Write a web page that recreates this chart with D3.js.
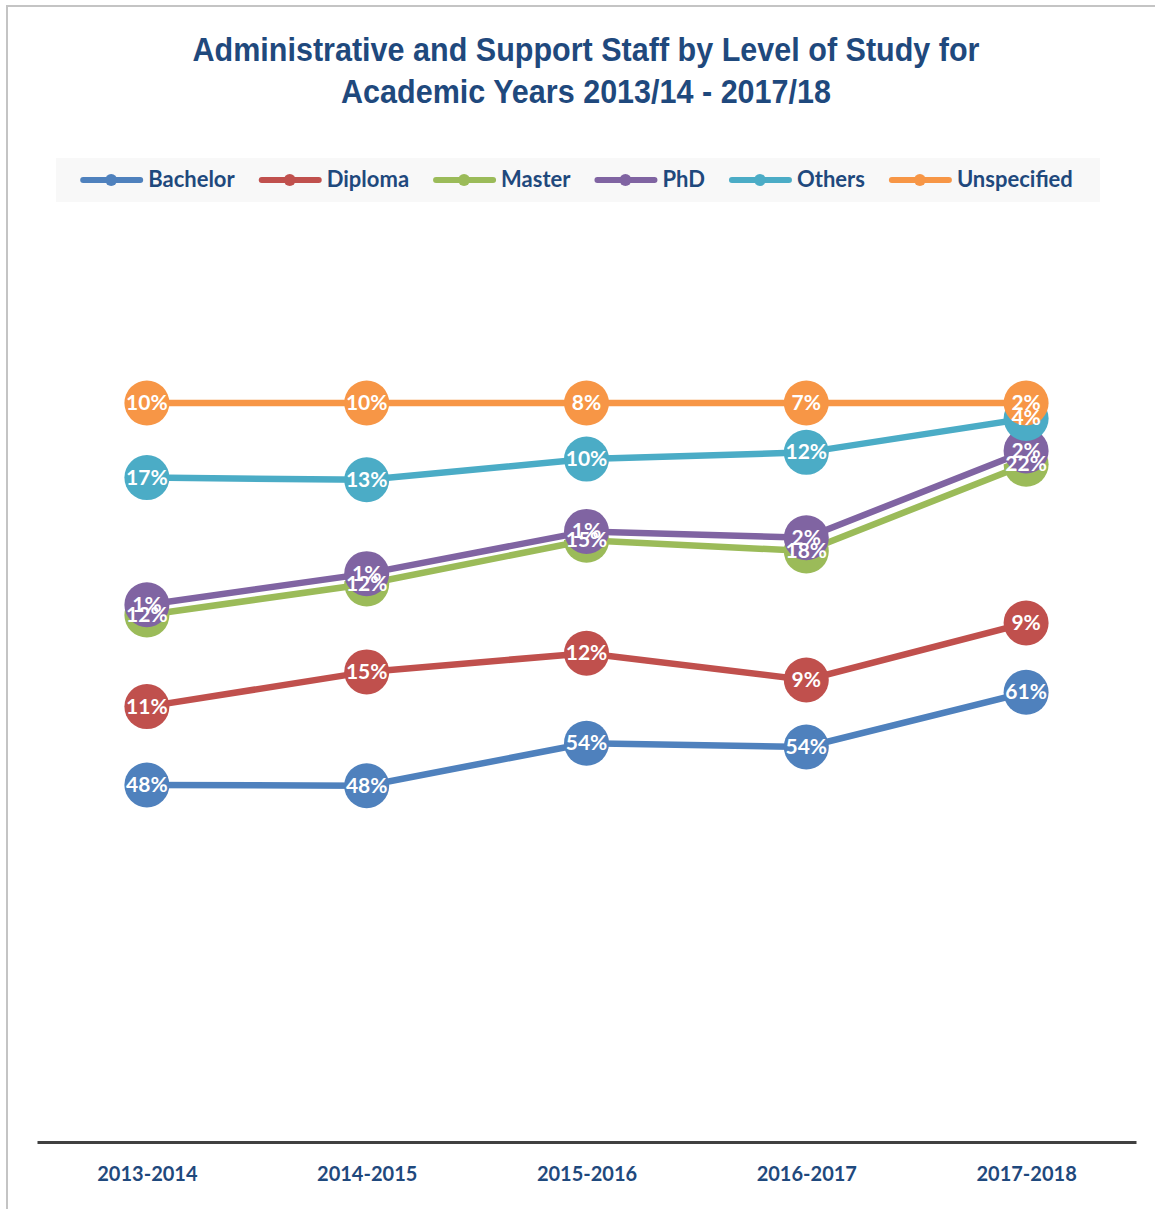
<!DOCTYPE html>
<html>
<head>
<meta charset="utf-8">
<title>Administrative and Support Staff by Level of Study</title>
<script src="https://cdn.jsdelivr.net/npm/d3@7"></script>
<style>
  body { margin: 0; background: #fff; }
  svg { display: block; }
  .title { font-family: "Liberation Sans", Arial, sans-serif; font-weight: bold; font-size: 34px; fill: #1f497d; }
  .legend text { font-family: Lato, "Open Sans", sans-serif; font-weight: bold; font-size: 22px; fill: #1f497d; }
  .axis text { font-family: Lato, "Open Sans", sans-serif; font-weight: bold; font-size: 20px; fill: #1f497d; }
  .lbl { font-family: Lato, "Open Sans", sans-serif; font-weight: bold; font-size: 21px; fill: #fff; }
</style>
</head>
<body>
<script>
// data (percent per level of study, labels show rounded values)
var years = ["2013-2014", "2014-2015", "2015-2016", "2016-2017", "2017-2018"];
var levels = ["Bachelor", "Diploma", "Master", "PhD", "Others", "Unspecified"];
var bachelor    = [48.2, 48.1, 53.9, 53.5, 60.8];
var diploma     = [10.6, 15.4, 12.2, 9.1, 9.4];
var master      = [12.4, 11.9, 15.3, 17.5, 21.5];
var phd         = [1.4, 1.4, 1.2, 1.8, 1.8];
var others      = [17.2, 12.7, 9.8, 11.6, 4.4];
var unspecified = [10.1, 10.4, 7.6, 6.7, 2.1];
var colors = ["#4f81bd", "#c0504d", "#9bbb59", "#8064a2", "#4bacc6", "#f79646"];

var series = [bachelor, diploma, master, phd, others, unspecified];
var rows = years.map(function(y, i) {
  var r = { year: y };
  levels.forEach(function(l, j) { r[l] = series[j][i]; });
  return r;
});

var w = 1155, h = 1209;
var svg = d3.select("body").append("svg").attr("width", w).attr("height", h);

// outer frame
svg.append("rect")
  .attr("x", 7).attr("y", 6).attr("width", 1170).attr("height", 1230)
  .attr("fill", "none").attr("stroke", "#c4c4c4").attr("stroke-width", 2);

// title (narrow bold look)
svg.append("text").attr("class", "title").attr("x", 586).attr("y", 61)
  .attr("text-anchor", "middle")
  .attr("textLength", 787).attr("lengthAdjust", "spacingAndGlyphs")
  .text("Administrative and Support Staff by Level of Study for");
svg.append("text").attr("class", "title").attr("x", 586).attr("y", 103)
  .attr("text-anchor", "middle")
  .attr("textLength", 490).attr("lengthAdjust", "spacingAndGlyphs")
  .text("Academic Years 2013/14 - 2017/18");

// legend
var legend = svg.append("g").attr("class", "legend");
legend.append("rect").attr("x", 56).attr("y", 158).attr("width", 1044).attr("height", 44)
  .attr("fill", "#f8f8f8");
var items = legend.selectAll("g.item").data(levels).enter().append("g").attr("class", "item");
items.append("line").attr("x1", 0).attr("x2", 57).attr("y1", 0).attr("y2", 0)
  .attr("stroke", function(d, i) { return colors[i]; })
  .attr("stroke-width", 6).attr("stroke-linecap", "round");
items.append("circle").attr("cx", 28).attr("cy", 0).attr("r", 6)
  .attr("fill", function(d, i) { return colors[i]; });
items.append("text").attr("x", 65).attr("y", 7).text(function(d) { return d; });
var widths = [];
items.each(function() { widths.push(65 + d3.select(this).select("text").node().getComputedTextLength()); });
var gap = 27;
var total = d3.sum(widths) + gap * (widths.length - 1);
var lx = 578 - total / 2;
items.attr("transform", function(d, i) {
  var t = "translate(" + lx + ",180)";
  lx += widths[i] + gap;
  return t;
});

// scales
var x = d3.scalePoint().domain(years).range([37, 1136]).padding(0.5);
var y = d3.scaleLinear().domain([0, 1.25]).range([1141, 218.5]);

var stack = d3.stack().keys(levels).offset(d3.stackOffsetExpand);
var stacked = stack(rows);

// axis
var xAxis = d3.axisBottom(x).tickSize(0).tickPadding(25);
var ax = svg.append("g").attr("class", "axis")
  .attr("transform", "translate(0,1142)")
  .call(xAxis);
ax.select(".domain").attr("stroke", "#404040").attr("stroke-width", 3);

var line = d3.line()
  .x(function(d) { return x(d.data.year); })
  .y(function(d) { return y(d[1]); });

stacked.forEach(function(s, i) {
  var g = svg.append("g");
  g.append("path").attr("d", line(s)).attr("fill", "none")
    .attr("stroke", "#fff").attr("stroke-width", 8.5);
  g.append("path").attr("d", line(s)).attr("fill", "none")
    .attr("stroke", colors[i]).attr("stroke-width", 6.5);
  g.selectAll("circle").data(s).enter().append("circle")
    .attr("cx", function(d) { return x(d.data.year); })
    .attr("cy", function(d) { return y(d[1]); })
    .attr("r", 22.5)
    .attr("fill", colors[i]);
});

// data labels on top
stacked.forEach(function(s, i) {
  svg.append("g").selectAll("text").data(s).enter().append("text")
    .attr("class", "lbl")
    .attr("x", function(d) { return x(d.data.year); })
    .attr("y", function(d) { return y(d[1]) + 7; })
    .attr("text-anchor", "middle")
    .text(function(d) { return Math.round(d.data[levels[i]]) + "%"; });
});
</script>
</body>
</html>
